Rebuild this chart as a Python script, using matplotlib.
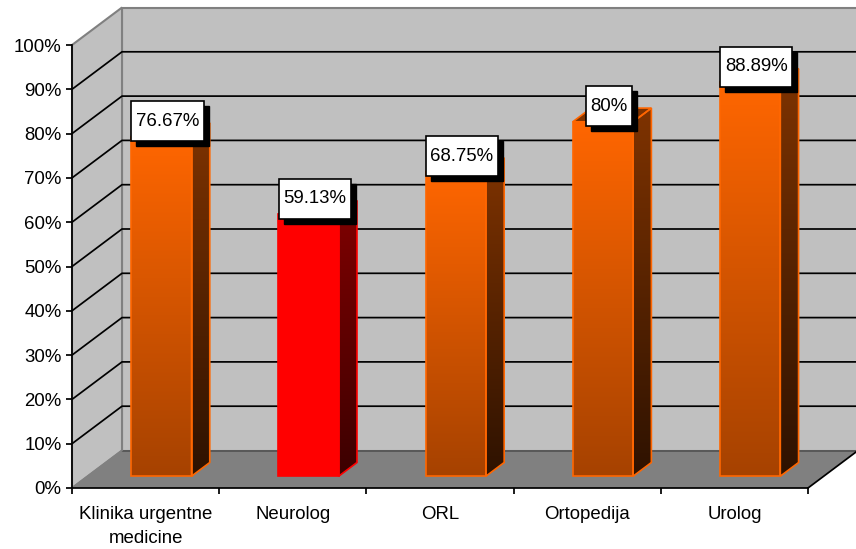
import matplotlib
matplotlib.use("Agg")
import matplotlib.pyplot as plt
import numpy as np
from matplotlib.colors import LinearSegmentedColormap
from matplotlib.patches import Polygon, Rectangle
from matplotlib.transforms import IdentityTransform

plt.rcParams['font.family'] = ['Liberation Sans', 'DejaVu Sans']

categories = ["Klinika urgentne\nmedicine", "Neurolog", "ORL", "Ortopedija", "Urolog"]
values = [76.67, 59.13, 68.75, 80, 88.89]
value_labels = ["76.67%", "59.13%", "68.75%", "80%", "88.89%"]
y_ticks = [0, 10, 20, 30, 40, 50, 60, 70, 80, 90, 100]
y_tick_labels = ["0%", "10%", "20%", "30%", "40%", "50%", "60%", "70%", "80%", "90%", "100%"]

W, H = 856, 549
LEFT, RIGHT, TOP, BOTTOM = 72, 808, 45, 488
# depth of the fake 3d box, in data units
DEPTH_X = 50 / ((RIGHT - LEFT) / 5)
DEPTH_Y = 37.5 / ((BOTTOM - TOP) / 100)
BAR_WIDTH = 0.41
D_FRONT, D_BACK = 0.315, 0.68
FONT_SIZE = 13.4


def proj(x, v, d=0.0):
    return x + d * DEPTH_X, v + d * DEPTH_Y


def gradient_face(ax, pts, top_color, bottom_color, edge):
    pts = np.array(pts)
    cmap = LinearSegmentedColormap.from_list("face", [bottom_color, top_color])
    img = ax.imshow(np.linspace(0, 1, 256).reshape(-1, 1), cmap=cmap, origin="lower", aspect="auto",
                    extent=(pts[:, 0].min(), pts[:, 0].max(), pts[:, 1].min(), pts[:, 1].max()),
                    zorder=3, clip_on=True)
    poly = Polygon(pts, closed=True, facecolor="none", edgecolor=edge, linewidth=1.2,
                   zorder=3.1, clip_on=False)
    ax.add_patch(poly)
    img.set_clip_path(poly)


fig = plt.figure(figsize=(W / 100, H / 100), dpi=100)
ax = fig.add_axes([LEFT / W, 1 - BOTTOM / H, (RIGHT - LEFT) / W, (BOTTOM - TOP) / H])
ax.patch.set_visible(False)

# walls and floor
wall = "#c0c0c0"
edge = "#808080"
back_wall = [proj(0, 0, 1), proj(6, 0, 1), proj(6, 100, 1), proj(0, 100, 1)]
side_wall = [proj(0, 0), proj(0, 0, 1), proj(0, 100, 1), proj(0, 100)]
floor = [proj(0, 0), proj(5, 0), proj(5, 0, 1), proj(0, 0, 1)]
ax.add_patch(Polygon(back_wall, facecolor=wall, edgecolor=edge, linewidth=1.5, zorder=1, clip_on=False))
ax.add_patch(Polygon(side_wall, facecolor=wall, edgecolor=edge, linewidth=1.5, zorder=1, clip_on=False))
for t in y_ticks[1:-1]:
    bx, by = proj(0, t, 1)
    ax.plot([0, bx, 6], [t, by, by], color="black", linewidth=1.25, zorder=1.5, clip_on=False)
ax.add_patch(Polygon(floor, facecolor="#808080", edgecolor="none", zorder=2, clip_on=False))
bx, by = proj(0, 0, 1)
ax.plot([bx, 6], [by, by], color="#555555", linewidth=1.3, zorder=2.1, clip_on=False)
ax.plot([0, bx], [0, by], color=edge, linewidth=1.2, zorder=2.1, clip_on=False)
ax.plot([5, proj(5, 0, 1)[0]], [0, by], color="black", linewidth=1.25, zorder=2.1, clip_on=False)

# bars
for i, v in enumerate(values):
    is_red = categories[i] == "Neurolog"
    x0 = i + 0.5 - BAR_WIDTH / 2
    x1 = i + 0.5 + BAR_WIDTH / 2
    line = "#ff0000" if is_red else "#ff6600"
    front = [proj(x0, 0, D_FRONT), proj(x1, 0, D_FRONT), proj(x1, v, D_FRONT), proj(x0, v, D_FRONT)]
    side = [proj(x1, 0, D_FRONT), proj(x1, 0, D_BACK), proj(x1, v, D_BACK), proj(x1, v, D_FRONT)]
    top = [proj(x0, v, D_FRONT), proj(x1, v, D_FRONT), proj(x1, v, D_BACK), proj(x0, v, D_BACK)]
    if is_red:
        ax.add_patch(Polygon(front, facecolor="#ff0000", edgecolor=line, linewidth=1.2, zorder=3.1, clip_on=False))
        ax.add_patch(Polygon(top, facecolor="#800000", edgecolor=line, linewidth=1.2, zorder=3.1, clip_on=False))
        # side runs from dark red to almost black red
        gradient_face(ax, side, "#800000", "#3c0000", line)
    else:
        ax.add_patch(Polygon(top, facecolor="#7f3300", edgecolor=line, linewidth=1.2, zorder=3.1, clip_on=False))
        gradient_face(ax, front, "#ff6600", "#a64200", line)
        gradient_face(ax, side, "#7f3300", "#2e1200", line)

ax.set_xlim(0, 5)
ax.set_ylim(0, 100)
ax.set_yticks(y_ticks)
ax.set_yticklabels(y_tick_labels, fontsize=FONT_SIZE, color="black")
ax.set_xticks(range(6))
ax.set_xticklabels([])
ax.set_xticks([i + 0.5 for i in range(5)], minor=True)
ax.set_xticklabels(categories, minor=True, fontsize=FONT_SIZE, color="black", linespacing=1.5)
ax.tick_params(axis="y", direction="out", length=4.5, width=1.25, pad=3)
ax.tick_params(axis="x", which="major", direction="out", length=4.5, width=1.25)
ax.tick_params(axis="x", which="minor", length=0, pad=13)
for side_name in ["top", "right"]:
    ax.spines[side_name].set_visible(False)
for side_name in ["left", "bottom"]:
    ax.spines[side_name].set_linewidth(1.25)
    ax.spines[side_name].set_zorder(4)

# value boxes with the hard black shadow
renderer = fig.canvas.get_renderer()
for i, v in enumerate(values):
    px, py = ax.transData.transform(proj(i + 0.5, v, D_FRONT))
    cx, cy = px + 6, py + 15.5
    t = fig.text(cx, cy, value_labels[i], transform=IdentityTransform(), ha="center", va="center",
                 fontsize=FONT_SIZE, color="black", zorder=12)
    tw = t.get_window_extent(renderer).width
    bw, bh = tw + 9, 40
    fig.add_artist(Rectangle((cx - bw / 2 + 5, cy - bh / 2 - 5), bw, bh, transform=IdentityTransform(),
                             facecolor="black", edgecolor="black", linewidth=1, zorder=10))
    fig.add_artist(Rectangle((cx - bw / 2, cy - bh / 2), bw, bh, transform=IdentityTransform(),
                             facecolor="white", edgecolor="black", linewidth=1.2, zorder=11))

fig.savefig("out.png", dpi=100)
